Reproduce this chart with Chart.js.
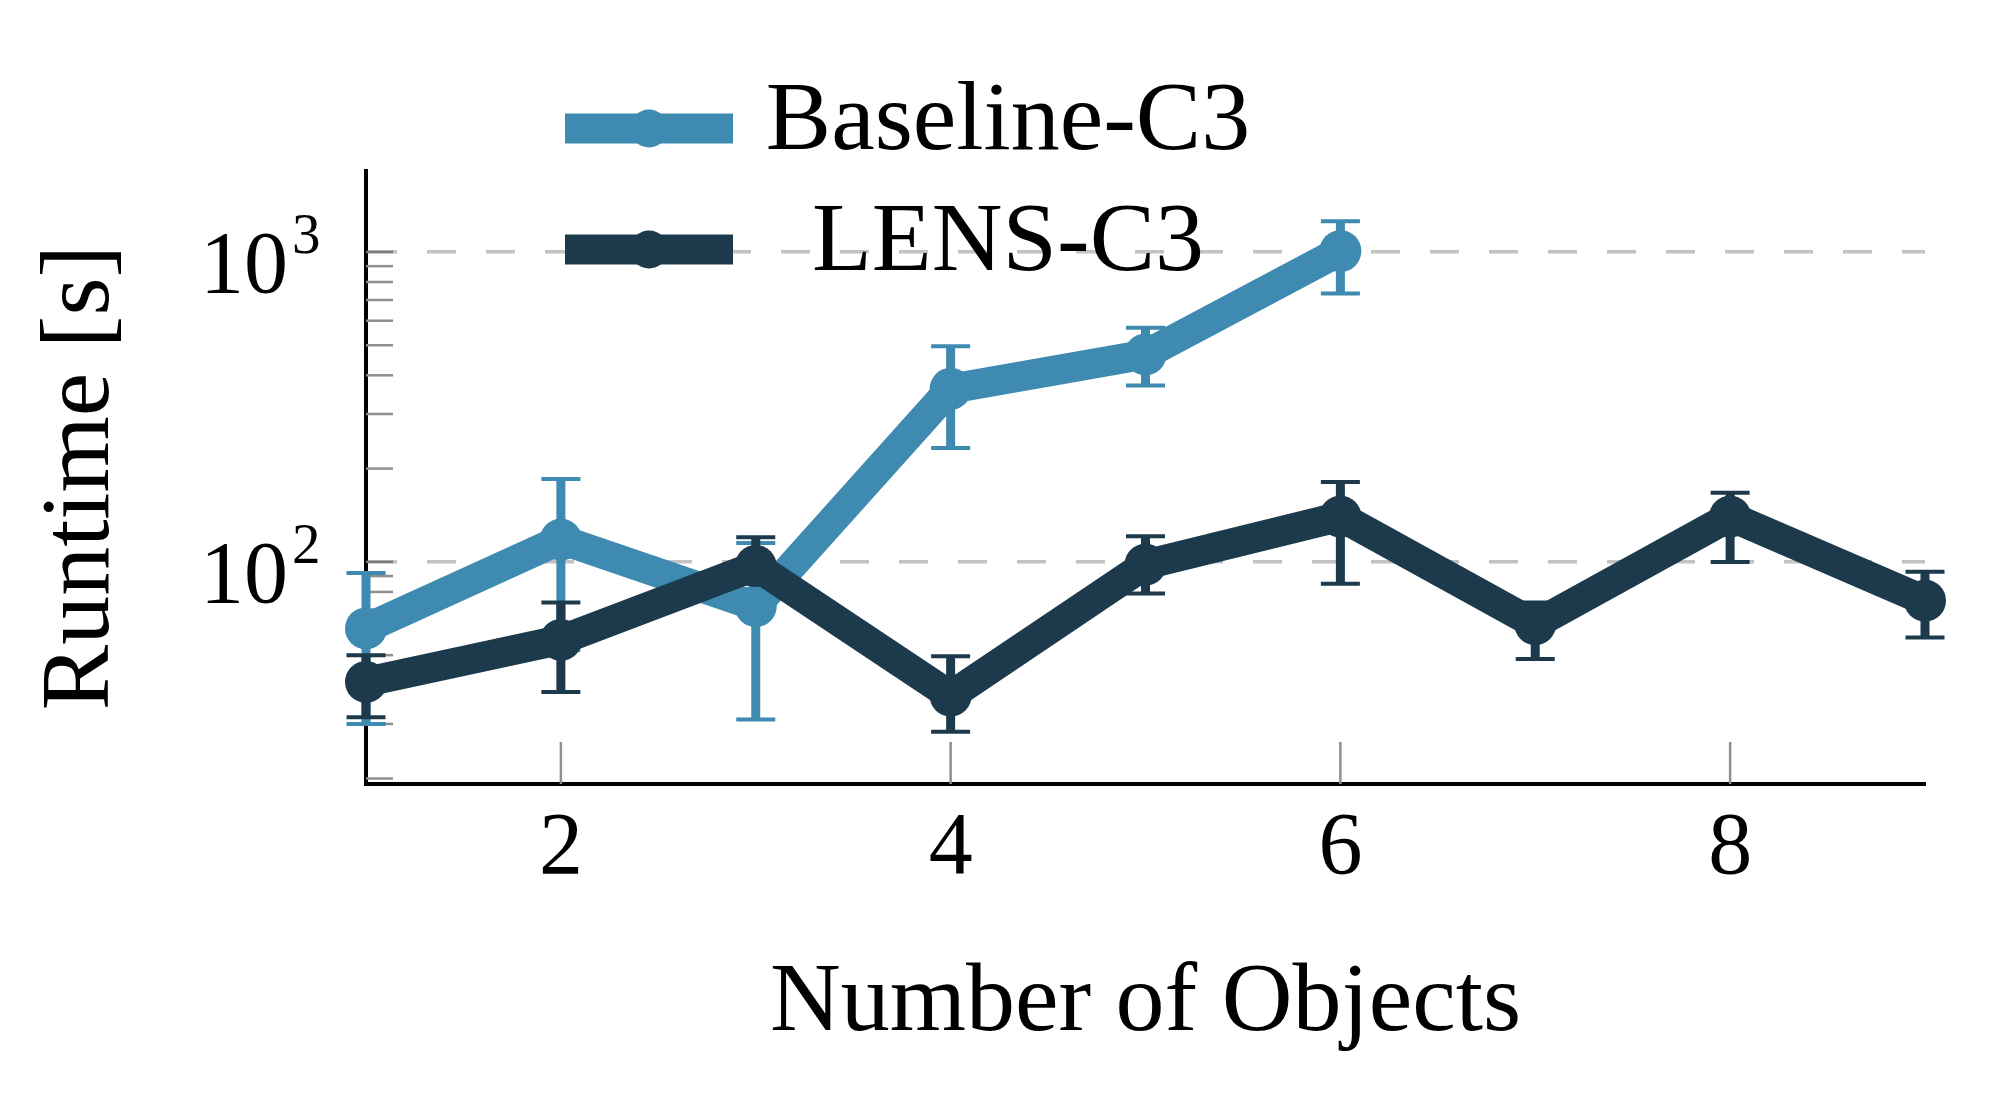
<!DOCTYPE html>
<html>
<head>
<meta charset="utf-8">
<script src="https://cdn.jsdelivr.net/npm/chart.js@4.4.1/dist/chart.umd.min.js"></script>
<style>
  html, body { margin: 0; padding: 0; background: #fff; }
  #wrap { width: 1990px; height: 1106px; }
</style>
</head>
<body>
<div id="wrap"><canvas id="chart" width="1990" height="1106"></canvas></div>
<script>
// number of objects on the x axis
const objects = [1, 2, 3, 4, 5, 6, 7, 8, 9];
const xTickVals = [2, 4, 6, 8];
const yMinorVals = [20, 30, 40, 50, 60, 70, 80, 90, 200, 300, 400, 500, 600, 700, 800, 900];
const yMajorVals = [100, 1000];
const yMajorLabels = [["10", "2"], ["10", "3"]];

// runtime [s], mean with low/high of the error bar
const baselineRuntime = [61, 118, 72, 362, 467, 1007];
const baselineLow = [30, 52, 31, 233, 371, 735];
const baselineHigh = [92, 185, 115, 496, 570, 1256];

const lensRuntime = [41, 56, 97, 37, 98, 140, 63, 140, 75];
const lensLow = [31.5, 38, 85, 28.3, 79, 85, 48.6, 100, 57];
const lensHigh = [50, 74, 120, 49.6, 121, 181, 74, 167, 93];

const lightBlue = "#3f8ab0";
const darkBlue = "#1c3a4c";

Chart.defaults.font.family = "'Liberation Serif', 'Times New Roman', serif";
Chart.defaults.color = "#000";

function toPoints(ys) {
  return ys.map((v, i) => ({ x: objects[i], y: v }));
}

// short tick marks inside the plot + the 10^n labels
const axisDecor = {
  id: "axisDecor",
  beforeDatasetsDraw(chart) {
    const { ctx, chartArea, scales: { x, y } } = chart;
    ctx.save();
    ctx.lineWidth = 2.5;
    yMinorVals.concat(yMajorVals).forEach(v => {
      const py = y.getPixelForValue(v);
      ctx.strokeStyle = yMajorVals.includes(v) ? "#7a7a7a" : "#8f8f8f";
      ctx.beginPath();
      ctx.moveTo(chartArea.left, py);
      ctx.lineTo(chartArea.left + 27, py);
      ctx.stroke();
    });
    xTickVals.forEach(v => {
      const px = x.getPixelForValue(v);
      ctx.strokeStyle = "#8f8f8f";
      ctx.beginPath();
      ctx.moveTo(px, chartArea.bottom);
      ctx.lineTo(px, chartArea.bottom - 42);
      ctx.stroke();
    });
    ctx.fillStyle = "#000";
    ctx.textBaseline = "alphabetic";
    yMajorVals.forEach((v, i) => {
      const py = y.getPixelForValue(v);
      const [base, exp] = yMajorLabels[i];
      ctx.font = "88px 'Liberation Serif'";
      ctx.textAlign = "right";
      ctx.fillText(base, chartArea.left - 78, py + 40);
      ctx.font = "57px 'Liberation Serif'";
      ctx.textAlign = "left";
      ctx.fillText(exp, chartArea.left - 74, py + 1);
    });
    ctx.restore();
  }
};

// vertical error bars with caps
const errorBars = {
  id: "errorBars",
  afterDatasetDraw(chart, args) {
    const ds = chart.data.datasets[args.index];
    if (!ds.errLow) return;
    const { ctx, scales: { x, y } } = chart;
    ctx.save();
    ctx.strokeStyle = ds.borderColor;
    ds.data.forEach((p, i) => {
      const px = x.getPixelForValue(p.x);
      const yl = y.getPixelForValue(ds.errLow[i]);
      const yh = y.getPixelForValue(ds.errHigh[i]);
      ctx.lineWidth = 9;
      ctx.beginPath();
      ctx.moveTo(px, yh);
      ctx.lineTo(px, yl);
      ctx.stroke();
      ctx.lineWidth = 4;
      ctx.beginPath();
      ctx.moveTo(px - 19.5, yh);
      ctx.lineTo(px + 19.5, yh);
      ctx.moveTo(px - 19.5, yl);
      ctx.lineTo(px + 19.5, yl);
      ctx.stroke();
    });
    ctx.restore();
  }
};

// legend: two rows, text centred in its column
const legendRows = {
  id: "legendRows",
  afterDraw(chart) {
    const { ctx } = chart;
    const rowY = [128.5, 249.5];
    ctx.save();
    chart.data.datasets.forEach((ds, r) => {
      const cy = rowY[r];
      ctx.fillStyle = ds.borderColor;
      ctx.fillRect(565, cy - 15, 168, 30);
      ctx.beginPath();
      ctx.arc(649, cy, 19, 0, Math.PI * 2);
      ctx.fill();
      ctx.fillStyle = "#000";
      ctx.font = "98px 'Liberation Serif'";
      ctx.textAlign = "center";
      ctx.textBaseline = "middle";
      ctx.fillText(ds.label, 1008, cy - 5);
    });
    ctx.restore();
  }
};

new Chart(document.getElementById("chart"), {
  type: "line",
  data: {
    datasets: [
      {
        label: "Baseline-C3",
        data: toPoints(baselineRuntime),
        errLow: baselineLow,
        errHigh: baselineHigh,
        borderColor: lightBlue,
        backgroundColor: lightBlue,
        borderWidth: 30,
        borderJoinStyle: "round",
        pointStyle: "circle",
        pointRadius: 21,
        pointBorderWidth: 0,
        pointBackgroundColor: lightBlue,
        clip: false,
        order: 2
      },
      {
        label: "LENS-C3",
        data: toPoints(lensRuntime),
        errLow: lensLow,
        errHigh: lensHigh,
        borderColor: darkBlue,
        backgroundColor: darkBlue,
        borderWidth: 30,
        borderJoinStyle: "round",
        pointStyle: "circle",
        pointRadius: 21,
        pointBorderWidth: 0,
        pointBackgroundColor: darkBlue,
        clip: false,
        order: 1
      }
    ]
  },
  options: {
    responsive: false,
    animation: false,
    layout: { padding: { top: 171, right: 65, left: 0, bottom: 0 } },
    plugins: {
      legend: { display: false },
      tooltip: { enabled: false }
    },
    scales: {
      x: {
        type: "linear",
        min: 1,
        max: 9,
        afterBuildTicks: s => { s.ticks = xTickVals.map(v => ({ value: v })); },
        afterFit: s => { s.height = 322; },
        grid: { display: false, drawTicks: false },
        border: { display: true, color: "#000", width: 4 },
        ticks: {
          font: { size: 88 },
          color: "#000",
          padding: 13,
          maxRotation: 0
        },
        title: {
          display: true,
          text: "Number of Objects",
          font: { size: 98 },
          color: "#000",
          padding: { top: 0, bottom: 43 }
        }
      },
      y: {
        type: "logarithmic",
        min: 19.2,
        max: 1825,
        afterBuildTicks: s => {
          s.ticks = yMinorVals.concat(yMajorVals).sort((a, b) => a - b).map(v => ({ value: v }));
        },
        afterFit: s => { s.width = 366; },
        grid: {
          drawTicks: false,
          lineWidth: 3.5,
          color: c => (c.tick && yMajorVals.includes(c.tick.value)) ? "#c2c2c2" : "rgba(0,0,0,0)"
        },
        border: { display: true, color: "#000", width: 4, dash: [29, 30] },
        ticks: { display: false },
        title: {
          display: true,
          text: "Runtime [s]",
          font: { size: 98 },
          color: "#000",
          padding: { top: 23, bottom: 0 }
        }
      }
    }
  },
  plugins: [axisDecor, errorBars, legendRows]
});
</script>
</body>
</html>
